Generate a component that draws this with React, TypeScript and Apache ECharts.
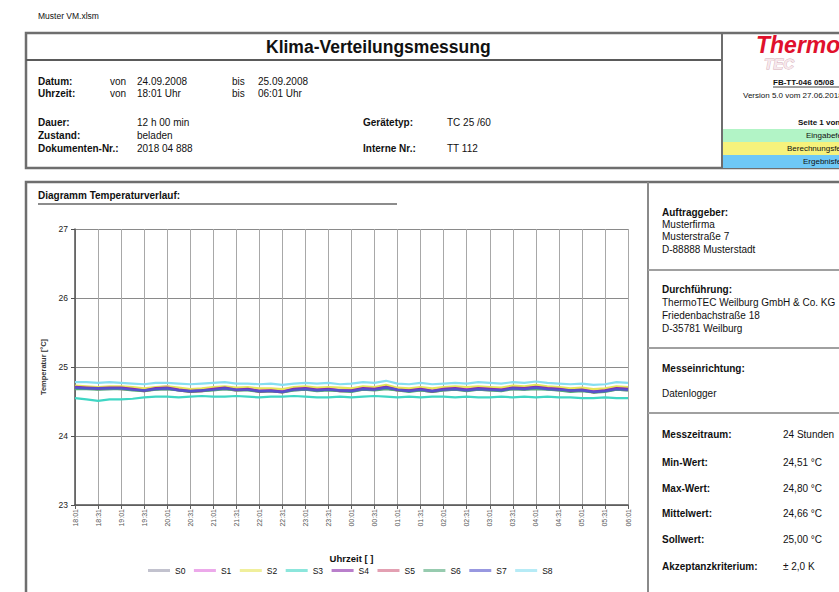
import React, { useEffect, useRef } from "react";
import * as echarts from "echarts";

const FONT = "'Liberation Sans', Arial, sans-serif";

// x categories every 15 min (labels shown every 30 min)
const times = [
  "18:01","18:16","18:31","18:46","19:01","19:16","19:31","19:46","20:01","20:16",
  "20:31","20:46","21:01","21:16","21:31","21:46","22:01","22:16","22:31","22:46",
  "23:01","23:16","23:31","23:46","00:01","00:16","00:31","00:46","01:01","01:16",
  "01:31","01:46","02:01","02:16","02:31","02:46","03:01","03:16","03:31","03:46",
  "04:01","04:16","04:31","04:46","05:01","05:16","05:31","05:46","06:01"
];

const seriesNames = ["S0","S1","S2","S3","S4","S5","S6","S7","S8"];
const seriesColors = ["#9a9aae","#e070dc","#e6e45a","#3fd6c4","#8a2aa8","#d0607e","#52a87a","#5454cc","#86def0"];

const s0 = [
  24.69,24.69,24.68,24.68,24.69,24.67,24.66,24.67,24.68,24.67,
  24.65,24.65,24.67,24.68,24.66,24.67,24.65,24.65,24.64,24.66,
  24.67,24.66,24.67,24.65,24.65,24.67,24.67,24.69,24.66,24.65,
  24.66,24.64,24.66,24.67,24.66,24.67,24.66,24.66,24.68,24.67,
  24.69,24.68,24.66,24.65,24.66,24.63,24.65,24.67,24.66
];
const s1 = [
  24.72,24.71,24.71,24.71,24.70,24.68,24.67,24.70,24.72,24.68,
  24.66,24.68,24.69,24.71,24.69,24.69,24.66,24.68,24.65,24.69,
  24.71,24.68,24.69,24.67,24.68,24.70,24.70,24.72,24.68,24.67,
  24.70,24.66,24.69,24.71,24.68,24.70,24.70,24.68,24.71,24.70,
  24.72,24.71,24.69,24.67,24.68,24.66,24.67,24.70,24.70
];
const s2 = [
  24.73,24.72,24.71,24.72,24.72,24.71,24.69,24.71,24.72,24.70,
  24.68,24.69,24.71,24.72,24.70,24.71,24.69,24.69,24.68,24.71,
  24.72,24.70,24.71,24.70,24.69,24.72,24.71,24.74,24.70,24.69,
  24.71,24.69,24.71,24.72,24.71,24.72,24.71,24.70,24.73,24.72,
  24.74,24.72,24.71,24.69,24.70,24.68,24.69,24.72,24.71
];
const s3 = [
  24.55,24.53,24.51,24.53,24.53,24.54,24.56,24.57,24.57,24.56,
  24.57,24.58,24.57,24.57,24.58,24.57,24.56,24.57,24.57,24.58,
  24.57,24.56,24.56,24.57,24.56,24.57,24.58,24.57,24.56,24.57,
  24.56,24.57,24.57,24.56,24.57,24.56,24.56,24.57,24.56,24.57,
  24.56,24.57,24.56,24.56,24.55,24.55,24.56,24.55,24.55
];
const s4 = [
  24.71,24.70,24.69,24.70,24.70,24.68,24.66,24.69,24.70,24.67,
  24.65,24.66,24.68,24.70,24.67,24.68,24.65,24.66,24.64,24.68,
  24.69,24.67,24.68,24.66,24.66,24.69,24.68,24.71,24.67,24.66,
  24.68,24.65,24.68,24.69,24.67,24.69,24.68,24.67,24.70,24.69,
  24.71,24.69,24.68,24.66,24.67,24.64,24.66,24.69,24.68
];
const s5 = [
  24.70,24.69,24.68,24.69,24.68,24.67,24.65,24.68,24.69,24.66,
  24.64,24.65,24.67,24.69,24.66,24.67,24.64,24.65,24.63,24.67,
  24.68,24.66,24.67,24.65,24.65,24.68,24.67,24.70,24.66,24.65,
  24.67,24.64,24.67,24.68,24.66,24.68,24.67,24.66,24.69,24.68,
  24.70,24.68,24.67,24.65,24.66,24.63,24.65,24.68,24.67
];
const s6 = [
  24.68,24.68,24.67,24.68,24.68,24.66,24.65,24.67,24.68,24.66,
  24.64,24.65,24.66,24.68,24.66,24.66,24.64,24.65,24.63,24.66,
  24.67,24.65,24.66,24.65,24.64,24.67,24.66,24.68,24.66,24.64,
  24.66,24.64,24.66,24.67,24.65,24.67,24.66,24.65,24.68,24.67,
  24.68,24.67,24.66,24.64,24.65,24.63,24.64,24.67,24.66
];
const s7 = [
  24.70,24.69,24.69,24.69,24.69,24.67,24.66,24.68,24.69,24.66,
  24.65,24.66,24.67,24.69,24.67,24.67,24.65,24.65,24.64,24.67,
  24.68,24.66,24.67,24.66,24.65,24.68,24.67,24.70,24.67,24.65,
  24.67,24.65,24.67,24.68,24.66,24.68,24.67,24.66,24.69,24.68,
  24.70,24.68,24.67,24.66,24.66,24.64,24.65,24.68,24.67
];
const s8 = [
  24.78,24.78,24.77,24.78,24.77,24.76,24.75,24.77,24.77,24.76,
  24.75,24.76,24.77,24.78,24.76,24.76,24.75,24.76,24.74,24.76,
  24.77,24.76,24.77,24.75,24.76,24.78,24.77,24.80,24.76,24.75,
  24.77,24.75,24.76,24.77,24.76,24.78,24.77,24.76,24.78,24.77,
  24.79,24.77,24.76,24.75,24.76,24.74,24.75,24.78,24.77
];
const seriesValues = [s0, s1, s2, s3, s4, s5, s6, s7, s8];

const yTicks = { min: 23, max: 27, interval: 1 };

const statLabels = ["Messzeitraum:","Min-Wert:","Max-Wert:","Mittelwert:","Sollwert:","Akzeptanzkriterium:"];
const statValues = ["24 Stunden","24,51 °C","24,80 °C","24,66 °C","25,00 °C","± 2,0 K"];

type TO = { size?: number; bold?: boolean; italic?: boolean; color?: string; align?: string; stroke?: string; lw?: number };
const T = (text: string, x: number, y: number, o: TO = {}) => ({
  type: "text",
  x,
  y,
  silent: true,
  style: {
    text,
    fontSize: o.size ?? 10,
    fontWeight: o.bold ? "bold" : "normal",
    fontStyle: o.italic ? "italic" : "normal",
    fontFamily: FONT,
    fill: o.color ?? "#111",
    align: o.align ?? "left",
    textAlign: o.align ?? "left",
    verticalAlign: "middle",
    textVerticalAlign: "middle",
    stroke: o.stroke,
    lineWidth: o.lw ?? 0,
  },
});
const L = (x1: number, y1: number, x2: number, y2: number, stroke = "#707070", lineWidth = 2) => ({
  type: "line",
  silent: true,
  shape: { x1, y1, x2, y2 },
  style: { stroke, lineWidth },
});
const R = (x: number, y: number, width: number, height: number, fill: string, stroke = "none", lineWidth = 0) => ({
  type: "rect",
  silent: true,
  shape: { x, y, width, height },
  style: { fill, stroke, lineWidth },
});

export default function App() {
  const ref = useRef<HTMLDivElement>(null);
  useEffect(() => {
    if (!ref.current) return;
    const chart = echarts.init(ref.current, undefined, { renderer: "svg" });

    const graphics: any[] = [
      T("Muster VM.xlsm", 38, 16, { size: 8.5 }),
      // header box
      R(26, 33, 900, 135, "none", "#6e6e6e", 2.5),
      L(26, 60, 722, 60, "#5a5a5a", 2),
      L(722, 33, 722, 168, "#6e6e6e", 2),
      T("Klima-Verteilungsmessung", 266, 47, { size: 17.5, bold: true }),
      T("Datum:", 38, 81, { bold: true }),
      T("von", 110, 81),
      T("24.09.2008", 137, 81),
      T("bis", 232, 81),
      T("25.09.2008", 258, 81),
      T("Uhrzeit:", 38, 93, { bold: true }),
      T("von", 110, 93),
      T("18:01 Uhr", 137, 93),
      T("bis", 232, 93),
      T("06:01 Uhr", 258, 93),
      T("Dauer:", 38, 122, { bold: true }),
      T("12 h 00 min", 137, 122),
      T("Zustand:", 38, 135, { bold: true }),
      T("beladen", 137, 135),
      T("Dokumenten-Nr.:", 38, 148, { bold: true }),
      T("2018 04 888", 137, 148),
      T("Gerätetyp:", 363, 122, { bold: true }),
      T("TC 25 /60", 447, 122),
      T("Interne Nr.:", 363, 148, { bold: true }),
      T("TT 112", 447, 148),
      // logo area
      T("TEC", 764, 63, { size: 15, bold: true, italic: true, color: "#f6e8ec", stroke: "#d4aab4", lw: 0.8 }),
      T("Thermo", 756, 45, { size: 23, bold: true, italic: true, color: "#e0102c" }),
      T("FB-TT-046 05/08", 773, 82, { size: 8, bold: true }),
      L(773, 87, 839, 87, "#111", 0.8),
      T("Version 5.0 vom 27.06.2018", 743, 95, { size: 8 }),
      T("Seite 1 von 1", 798, 122, { size: 8, bold: true }),
      R(723, 129, 120, 13, "#b2f4c6"),
      R(723, 142, 120, 13, "#f6f27c"),
      R(723, 155, 120, 13, "#6ec8f6"),
      T("Eingabefeld", 806, 135.5, { size: 8 }),
      T("Berechnungsfeld", 787, 148.5, { size: 8 }),
      T("Ergebnisfeld", 803, 161.5, { size: 8 }),
      // chart box
      R(26, 182, 900, 500, "none", "#6e6e6e", 2.5),
      L(648, 182, 648, 592, "#8a8a8a", 2),
      T("Diagramm Temperaturverlauf:", 38, 195, { bold: true }),
      L(38, 204, 397, 204, "#8c8c8c", 1.8),
      // right panel
      T("Auftraggeber:", 662, 212, { bold: true }),
      T("Musterfirma", 662, 224),
      T("Musterstraße 7", 662, 236),
      T("D-88888 Musterstadt", 662, 249),
      L(648, 270, 839, 270, "#a0a0a0", 2),
      T("Durchführung:", 662, 289, { bold: true }),
      T("ThermoTEC Weilburg GmbH & Co. KG", 662, 302),
      T("Friedenbachstraße 18", 662, 315),
      T("D-35781 Weilburg", 662, 328),
      L(648, 348, 839, 348, "#a0a0a0", 2),
      T("Messeinrichtung:", 662, 368, { bold: true }),
      T("Datenlogger", 662, 393),
      L(648, 413, 839, 413, "#a0a0a0", 2),
    ];
    const statY = [434, 462, 488, 513, 539, 566];
    statLabels.forEach((s, i) => graphics.push(T(s, 662, statY[i], { bold: true })));
    statValues.forEach((s, i) => graphics.push(T(s, 783, statY[i])));

    chart.setOption({
      animation: false,
      backgroundColor: "#ffffff",
      textStyle: { fontFamily: FONT },
      color: seriesColors,
      grid: { left: 75, top: 229, right: 211, bottom: 87, containLabel: false },
      legend: {
        data: seriesNames,
        left: 148,
        top: 566,
        padding: 0,
        icon: "rect",
        itemWidth: 22,
        itemHeight: 3,
        itemGap: 8.5,
        itemStyle: { opacity: 0.6 },
        textStyle: { fontSize: 8.5, color: "#111", fontFamily: FONT },
      },
      xAxis: {
        type: "category",
        data: times,
        boundaryGap: false,
        name: "Uhrzeit [ ]",
        nameLocation: "middle",
        nameGap: 48,
        nameTextStyle: { fontSize: 9.5, fontWeight: "bold", color: "#111" },
        axisLine: { lineStyle: { color: "#505050", width: 1.5 } },
        axisTick: { show: true, interval: 1, length: 4, lineStyle: { color: "#606060" } },
        axisLabel: { interval: 1, rotate: 90, fontSize: 7, color: "#555", margin: 4 },
        splitLine: { show: true, interval: 1, lineStyle: { color: "#a8a8a8", width: 1 } },
      },
      yAxis: {
        type: "value",
        min: yTicks.min,
        max: yTicks.max,
        interval: yTicks.interval,
        name: "Temperatur [°C]",
        nameLocation: "middle",
        nameGap: 28,
        nameRotate: 90,
        nameTextStyle: { fontSize: 7.5, fontWeight: "bold", color: "#333" },
        axisLine: { show: true, lineStyle: { color: "#505050", width: 1.5 } },
        axisTick: { show: true, length: 4, lineStyle: { color: "#505050" } },
        axisLabel: { fontSize: 8.5, color: "#222", margin: 7 },
        splitLine: { show: true, lineStyle: { color: "#8a8a8a", width: 1.2 } },
      },
      series: seriesNames.map((name, i) => ({
        name,
        type: "line",
        data: seriesValues[i],
        symbol: "none",
        lineStyle: { width: i === 4 ? 2.6 : 2.2, color: seriesColors[i] },
        itemStyle: { color: seriesColors[i] },
        z: i === 4 || i === 7 ? 5 : 2,
      })),
      graphic: { elements: graphics },
    });
    return () => chart.dispose();
  }, []);
  return (
    <div
      ref={ref}
      style={{ position: "fixed", left: 0, top: 0, width: 839, height: 592, background: "#fff" }}
    />
  );
}
